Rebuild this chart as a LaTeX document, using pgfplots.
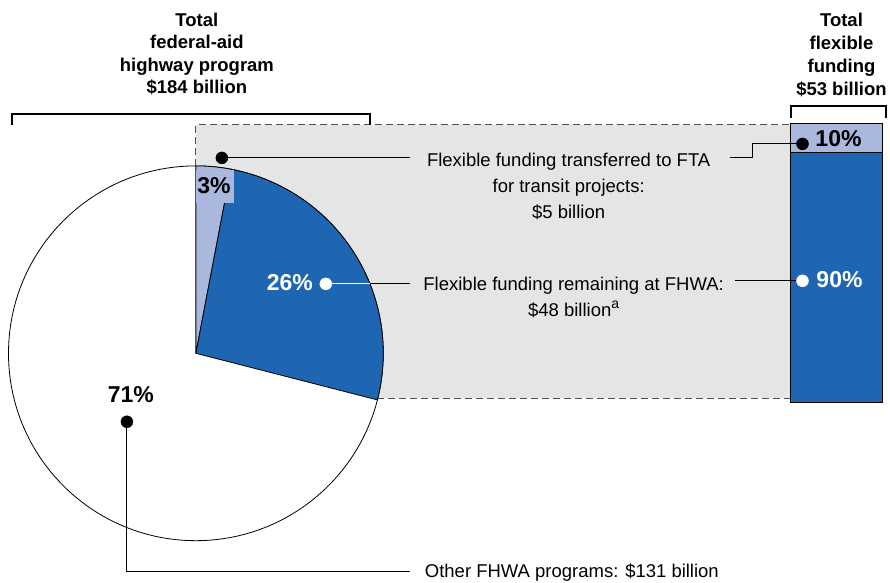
\documentclass[border=0pt]{standalone}
\usepackage{fontspec}
\setmainfont{Liberation Sans}
\usepackage{pgfplots}
\pgfplotsset{compat=1.18}
\definecolor{fblue}{HTML}{1F66B2}
\definecolor{flight}{HTML}{AAB8DD}
\definecolor{fgray}{HTML}{E4E6E6}
\definecolor{dashc}{HTML}{505050}
% pie shares (percent of $184 billion)
\def\pTransit{3}
\def\pRemain{26}
\def\pOther{71}
% bar shares (percent of $53 billion)
\def\bTransit{10}
\def\bRemain{90}
\pgfmathsetmacro\aOne{90-3.6*\pTransit}
\pgfmathsetmacro\aTwo{\aOne-3.6*\pRemain}
\def\R{187.5bp}
\newcommand\fnt[2]{\fontsize{#1bp}{#2bp}\selectfont}
\begin{document}
\begin{tikzpicture}
\begin{axis}[scale only axis, width=890bp, height=583bp,
  xmin=0, xmax=890, ymin=0, ymax=583, y dir=reverse,
  hide axis, clip=false, enlargelimits=false]
% gray band
\addplot[fill=fgray, draw=none] coordinates {(196,125) (800,125) (800,398.5) (196,398.5)} -- cycle;
% dashed outline
\addplot[dashc, line width=1.1bp, dash pattern=on 7bp off 4bp] coordinates {(196,166) (196,125) (808,125)};
\addplot[dashc, line width=1.1bp, dash pattern=on 7bp off 4bp] coordinates {(377,398.5) (791,398.5)};
% pie
\filldraw[fill=white, draw=black, line width=0.8bp] (axis cs:196,353.5) circle[radius=\R];
\filldraw[fill=flight, draw=black, line width=0.8bp] (axis cs:196,353.5) -- ++(90:\R) arc[start angle=90, end angle=\aOne, radius=\R] -- cycle;
\filldraw[fill=fblue, draw=black, line width=0.8bp] (axis cs:196,353.5) -- ++(\aOne:\R) arc[start angle=\aOne, end angle=\aTwo, radius=\R] -- cycle;
\addplot[fill=flight, draw=none] coordinates {(196.6,170.5) (234,170.5) (234,203) (196.6,203)} -- cycle;
% stacked bar
\addplot[fill=flight, draw=black, line width=1bp] coordinates {(791,124) (883,124) (883,153) (791,153)} -- cycle;
\addplot[fill=fblue, draw=black, line width=1bp] coordinates {(791,153) (883,153) (883,403) (791,403)} -- cycle;
% brackets
\addplot[black, line width=2bp] coordinates {(12,125) (12,114) (370,114) (370,125)};
\addplot[black, line width=2bp] coordinates {(791,118) (791,106) (887,106) (887,118)};
% leaders
\addplot[black, line width=1bp] coordinates {(222,158) (410,158)};
\addplot[black, line width=1bp] coordinates {(730,158) (753,158) (753,144) (803,144)};
\addplot[white, line width=1bp] coordinates {(326,284) (370,284)};
\addplot[black, line width=1bp] coordinates {(370,284) (410,284)};
\addplot[black, line width=1bp] coordinates {(735,281) (800,281)};
\addplot[black, line width=1bp] coordinates {(127,422) (127,572) (410,572)};
\addplot[only marks, mark=*, mark size=6bp, black] coordinates {(222,158) (803,144) (127,422)};
\addplot[only marks, mark=*, mark size=6bp, white, mark options={draw=white, fill=white}] coordinates {(326,284) (803,281)};
% titles
\node[align=center, font=\bfseries\fnt{18.5}{22.6}] at (axis cs:197,54) {Total\\federal-aid\\highway program\\\$184 billion};
\node[align=center, font=\bfseries\fnt{18.5}{23.3}] at (axis cs:842,55) {Total\\flexible\\funding\\\$53 billion};
% annotation texts
\node[align=center, font=\fnt{18.5}{26}] at (axis cs:569,187) {Flexible funding transferred to FTA\\for transit projects:\\\$5 billion};
\node[align=center, font=\fnt{18.5}{26}] at (axis cs:574,298) {Flexible funding remaining at FHWA:\\\$48 billion\raisebox{8bp}{\fnt{14}{14}a}};
\node[anchor=west, font=\fnt{18.5}{22}, inner sep=0pt] at (axis cs:425,573) {Other FHWA programs: \$131 billion};
% percent labels
\node[font=\bfseries\fnt{23}{26}] at (axis cs:214,186) {3\%};
\node[font=\bfseries\fnt{23}{26}, white] at (axis cs:290,283) {26\%};
\node[font=\bfseries\fnt{23}{26}] at (axis cs:131,395) {71\%};
\node[font=\bfseries\fnt{23}{26}] at (axis cs:839,139) {10\%};
\node[font=\bfseries\fnt{23}{26}, white] at (axis cs:840,280) {90\%};
\path (rel axis cs:0,0) rectangle (rel axis cs:1,1);
\end{axis}
\end{tikzpicture}
\end{document}
